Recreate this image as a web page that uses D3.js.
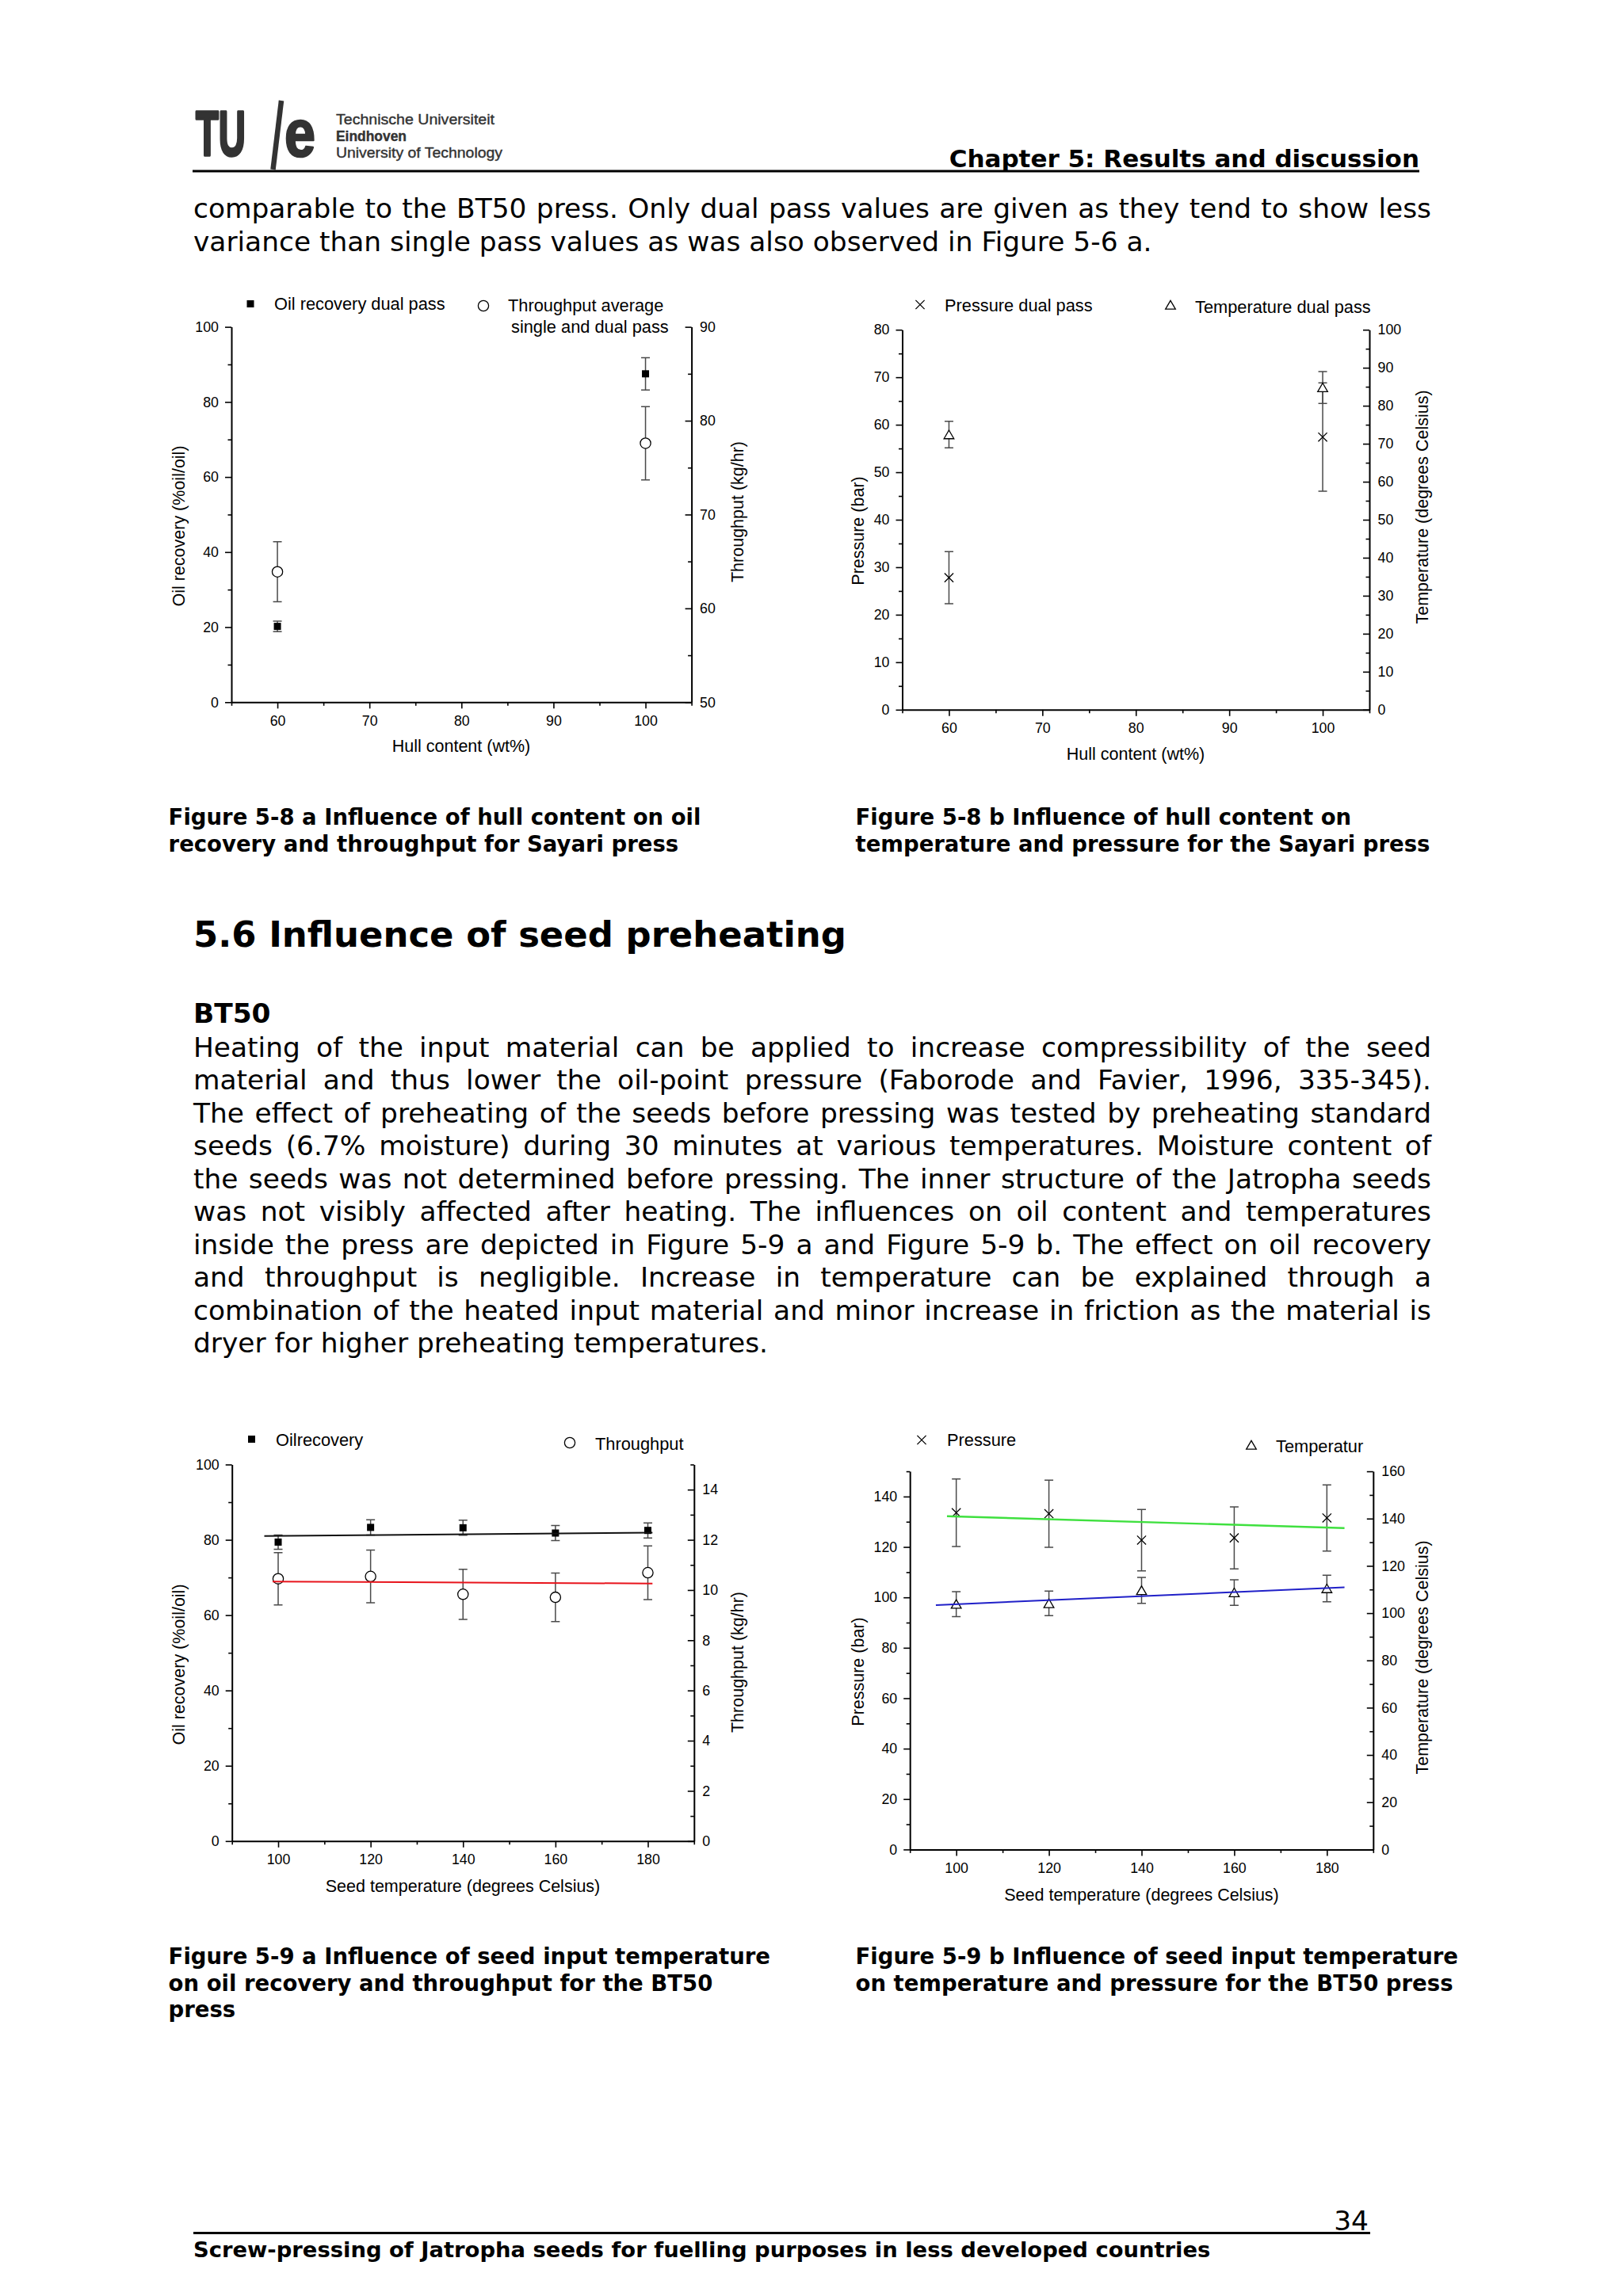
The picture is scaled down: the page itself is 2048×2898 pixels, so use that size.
<!DOCTYPE html>
<html>
<head>
<meta charset="utf-8">
<script src="https://cdn.jsdelivr.net/npm/d3@7"></script>
<style>
  html, body { margin: 0; padding: 0; background: #fff; }
  svg { display: block; }
</style>
</head>
<body>
<svg id="page" width="2048" height="2898"></svg>
<script>
// ---- Figure 5-8 a/b : hull content (Sayari press)
const hullContent = [60, 100];
const hullTicks = [60, 70, 80, 90, 100];
const hullMinor = [55, 65, 75, 85, 95, 105];

const oilRecoveryDual = [20.2, 87.5];
const oilRecoveryDualErr = [1.4, 4.3];
const throughputAvg = [63.9, 77.6];
const throughputAvgErr = [3.2, 3.9];

const pressureDual = [27.8, 57.4];
const pressureDualErr = [5.5, 11.4];
const tempDual = [72.4, 84.8];
const tempDualErr = [3.5, 4.2];

// ---- Figure 5-9 a/b : seed temperature (BT50 press)
const seedTemp = [100, 120, 140, 160, 180];
const seedTicks = [100, 120, 140, 160, 180];
const seedMinor = [90, 110, 130, 150, 170, 190];

const oilRecovery = [79.4, 83.3, 83.2, 81.8, 82.5];
const oilRecoveryErr = [1.9, 2.0, 2.0, 2.0, 2.0];
const throughput = [10.45, 10.54, 9.83, 9.71, 10.69];
const throughputErr = [1.04, 1.05, 1.0, 0.97, 1.07];

const pressure = [133.6, 133.2, 122.7, 123.6, 131.5];
const pressureErr = [13.4, 13.3, 12.2, 12.3, 13.1];
const temperature = [103.8, 104.1, 109.6, 108.7, 110.4];
const temperatureErr = [5.25, 5.2, 5.5, 5.4, 5.6];

// fitted lines, end points as drawn
const oilFitX = [97, 181], oilFitY = [81.0, 81.9];
const thrFitX = [98.8, 181], thrFitY = [10.34, 10.26];
const presFitX = [98, 183.8], presFitY = [132.2, 127.5];
const tempFitX = [95.6, 183.8], tempFitY = [103.4, 110.9];

// y tick values
const oilTicks = [0, 20, 40, 60, 80, 100];
const oilMinor = [10, 30, 50, 70, 90];
const thrHullTicks = [50, 60, 70, 80, 90];
const thrHullMinor = [55, 65, 75, 85];
const presHullTicks = [0, 10, 20, 30, 40, 50, 60, 70, 80];
const presHullMinor = [5, 15, 25, 35, 45, 55, 65, 75];
const tempHullTicks = [0, 10, 20, 30, 40, 50, 60, 70, 80, 90, 100];
const tempHullMinor = [5, 15, 25, 35, 45, 55, 65, 75, 85, 95];
const thrTicks = [0, 2, 4, 6, 8, 10, 12, 14];
const thrMinor = [1, 3, 5, 7, 9, 11, 13, 15];
const presTicks = [0, 20, 40, 60, 80, 100, 120, 140];
const presMinor = [10, 30, 50, 70, 90, 110, 130, 150];
const tempTicks = [0, 20, 40, 60, 80, 100, 120, 140, 160];
const tempMinor = [10, 30, 50, 70, 90, 110, 130, 150];

// ---- page text
const introLines = [
  "comparable to the BT50 press. Only dual pass values are given as they tend to show less",
  "variance than single pass values as was also observed in Figure 5-6 a."
];
const bodyLines = [
  "Heating of the input material can be applied to increase compressibility of the seed",
  "material and thus lower the oil-point pressure (Faborode and Favier, 1996, 335-345).",
  "The effect of preheating of the seeds before pressing was tested by preheating standard",
  "seeds (6.7% moisture) during 30 minutes at various temperatures. Moisture content of",
  "the seeds was not determined before pressing. The inner structure of the Jatropha seeds",
  "was not visibly affected after heating. The influences on oil content and temperatures",
  "inside the press are depicted in Figure 5-9 a and Figure 5-9 b. The effect on oil recovery",
  "and throughput is negligible. Increase in temperature can be explained through a",
  "combination of the heated input material and minor increase in friction as the material is",
  "dryer for higher preheating temperatures."
];
const cap58a = ["Figure 5-8 a Influence of hull content on oil", "recovery and throughput for Sayari press"];
const cap58b = ["Figure 5-8 b Influence of hull content on", "temperature and pressure for the Sayari press"];
const cap59a = ["Figure 5-9 a Influence of seed input temperature", "on oil recovery and throughput for the BT50", "press"];
const cap59b = ["Figure 5-9 b Influence of seed input temperature", "on temperature and pressure for the BT50 press"];

const CHART_FONT = "'Liberation Sans', Arial, sans-serif";
const PAGE_FONT = "'DejaVu Sans', Verdana, sans-serif";

const svg = d3.select("#page");
svg.append("rect").attr("width", 2048).attr("height", 2898).attr("fill", "#fff");

// ---------- page text helpers
function txt(x, y, s, size, opts = {}) {
  const t = svg.append("text")
    .attr("x", x).attr("y", y)
    .style("font-family", opts.font || PAGE_FONT)
    .style("font-size", size + "px")
    .style("font-weight", opts.bold ? "bold" : "normal")
    .attr("fill", opts.fill || "#000")
    .attr("text-anchor", opts.anchor || "start")
    .text(s);
  if (opts.len) t.attr("textLength", opts.len).attr("lengthAdjust", "spacingAndGlyphs");
  if (opts.stroke) t.attr("stroke", opts.fill || "#000").attr("stroke-width", opts.stroke).attr("stroke-linejoin", "round");
  return t;
}
function justify(t, width) {
  const s = t.text();
  const n = (s.match(/ /g) || []).length;
  const w = t.node().getComputedTextLength();
  if (n) t.style("word-spacing", ((width - w) / n) + "px");
}

// header: TU/e logo
const LOGO_FONT = "'Liberation Sans', Arial, sans-serif";
txt(247, 196, "TU", 80, { bold: true, font: LOGO_FONT, fill: "#333", len: 63, stroke: 3.5 });
svg.append("line").attr("x1", 355).attr("y1", 127).attr("x2", 344.5).attr("y2", 214)
  .attr("stroke", "#333").attr("stroke-width", 6.5);
txt(359, 196.5, "e", 84, { bold: true, font: LOGO_FONT, fill: "#333", len: 39, stroke: 2.5 });
txt(424, 156.5, "Technische Universiteit", 18.5, { font: LOGO_FONT, fill: "#333", len: 200, stroke: 0.4 });
txt(424, 178, "Eindhoven", 18.5, { bold: true, font: LOGO_FONT, fill: "#333", len: 89, stroke: 0.4 });
txt(424, 199, "University of Technology", 18.5, { font: LOGO_FONT, fill: "#333", len: 210, stroke: 0.4 });
txt(1791, 211, "Chapter 5: Results and discussion", 31, { bold: true, anchor: "end" });
svg.append("line").attr("x1", 243).attr("x2", 1791).attr("y1", 216).attr("y2", 216)
  .attr("stroke", "#000").attr("stroke-width", 3);

// intro paragraph
justify(txt(244, 275, introLines[0], 34.4), 1562);
txt(244, 316.5, introLines[1], 34.4);

// captions 5-8
cap58a.forEach((s, i) => txt(212.6, 1041 + i * 34, s, 27.5, { bold: true }));
cap58b.forEach((s, i) => txt(1079.5, 1041 + i * 34, s, 27.5, { bold: true }));

// section
txt(244, 1195, "5.6 Influence of seed preheating", 44.9, { bold: true });
txt(244, 1291, "BT50", 34.4, { bold: true });
bodyLines.forEach((s, i) => {
  const t = txt(244, 1333.5 + i * 41.5, s, 34.4);
  if (i < bodyLines.length - 1) justify(t, 1562);
});

// captions 5-9
cap59a.forEach((s, i) => txt(212.6, 2479 + i * 33.5, s, 27.5, { bold: true }));
cap59b.forEach((s, i) => txt(1079.5, 2479 + i * 33.5, s, 27.5, { bold: true }));

// footer
txt(1727, 2815, "34", 34.4, { anchor: "end" });
svg.append("line").attr("x1", 244).attr("x2", 1729).attr("y1", 2818.5).attr("y2", 2818.5)
  .attr("stroke", "#000").attr("stroke-width", 3);
txt(244, 2849, "Screw-pressing of Jatropha seeds for fuelling purposes in less developed countries", 27.4, { bold: true });

// ---------- chart helpers
function styleAxis(sel, keepDomain) {
  sel.attr("font-family", null).attr("font-size", null);
  sel.select(".domain").attr("stroke", "#000").attr("stroke-width", 2)
    .style("display", keepDomain ? null : "none");
  sel.selectAll(".tick line").attr("stroke", "#000").attr("stroke-width", 1.6);
  sel.selectAll(".tick text").attr("fill", "#000")
    .style("font-family", CHART_FONT).style("font-size", "17.8px");
}

function marker(g, type, cx, cy) {
  if (type === "square") {
    g.append("rect").attr("x", cx - 4.5).attr("y", cy - 4.5).attr("width", 9).attr("height", 9).attr("fill", "#000");
  } else if (type === "circle") {
    g.append("circle").attr("cx", cx).attr("cy", cy).attr("r", 6.6)
      .attr("fill", "#fff").attr("stroke", "#000").attr("stroke-width", 1.3);
  } else if (type === "triangle") {
    g.append("path").attr("d", `M${cx},${cy - 5.6}L${cx + 6.3},${cy + 5.2}L${cx - 6.3},${cy + 5.2}Z`)
      .attr("fill", "#fff").attr("stroke", "#000").attr("stroke-width", 1.3);
  } else if (type === "cross") {
    g.append("path").attr("d", `M${cx - 5.6},${cy - 5.6}L${cx + 5.6},${cy + 5.6}M${cx + 5.6},${cy - 5.6}L${cx - 5.6},${cy + 5.6}`)
      .attr("stroke", "#000").attr("stroke-width", 1.3).attr("fill", "none");
  }
}

function chartText(g, x, y, s, size, rot) {
  const t = g.append("text").attr("fill", "#000")
    .style("font-family", CHART_FONT).style("font-size", size + "px").text(s);
  if (rot) {
    t.attr("transform", `translate(${x},${y}) rotate(-90)`).attr("text-anchor", "middle").attr("dy", "0.35em");
  } else {
    t.attr("x", x).attr("y", y);
  }
  return t;
}

function drawChart(o) {
  const g = svg.append("g");
  const x = d3.scaleLinear().domain(o.xDomain).range([o.left, o.right]);
  const yL = d3.scaleLinear().domain(o.yLDomain).range([o.bottom, o.top]);
  const yR = d3.scaleLinear().domain(o.yRDomain).range([o.bottom, o.top]);

  // axes: minor first, then major with labels
  g.append("g").attr("transform", `translate(0,${o.bottom})`)
    .call(d3.axisBottom(x).tickValues(o.xMinor).tickSize(4.5).tickFormat(""))
    .call(s => styleAxis(s, false));
  g.append("g").attr("transform", `translate(0,${o.bottom})`)
    .call(d3.axisBottom(x).tickValues(o.xTicks).tickSize(8).tickSizeOuter(0).tickPadding(9).tickFormat(d3.format("d")))
    .call(s => styleAxis(s, true));
  g.append("g").attr("transform", `translate(${o.left},0)`)
    .call(d3.axisLeft(yL).tickValues(o.yLMinor).tickSize(4.5).tickFormat(""))
    .call(s => styleAxis(s, false));
  g.append("g").attr("transform", `translate(${o.left},0)`)
    .call(d3.axisLeft(yL).tickValues(o.yLTicks).tickSize(8).tickSizeOuter(0).tickPadding(8).tickFormat(d3.format("d")))
    .call(s => styleAxis(s, true));
  g.append("g").attr("transform", `translate(${o.right},0)`)
    .call(d3.axisRight(yR).tickValues(o.yRMinor).tickSize(-4.5).tickFormat(""))
    .call(s => styleAxis(s, false));
  g.append("g").attr("transform", `translate(${o.right},0)`)
    .call(d3.axisRight(yR).tickValues(o.yRTicks).tickSize(-8).tickSizeOuter(0).tickPadding(10.5).tickFormat(d3.format("d")))
    .call(s => styleAxis(s, true));

  // error bars
  o.series.forEach(sr => {
    const y = sr.axis === "R" ? yR : yL;
    sr.x.forEach((xv, i) => {
      const cx = x(xv), y0 = y(sr.y[i] - sr.err[i]), y1 = y(sr.y[i] + sr.err[i]);
      g.append("path")
        .attr("d", `M${cx},${y0}V${y1}M${cx - 5.5},${y0}H${cx + 5.5}M${cx - 5.5},${y1}H${cx + 5.5}`)
        .attr("stroke", "#4a4a4a").attr("stroke-width", 1.5).attr("fill", "none");
    });
  });
  // markers
  o.series.forEach(sr => {
    const y = sr.axis === "R" ? yR : yL;
    sr.x.forEach((xv, i) => marker(g, sr.marker, x(xv), y(sr.y[i])));
  });
  // linear fits
  (o.fits || []).forEach(f => {
    const y = f.axis === "R" ? yR : yL;
    const line = d3.line().x(d => x(d[0])).y(d => y(d[1]));
    g.append("path").datum(d3.zip(f.x, f.y)).attr("d", line)
      .attr("stroke", f.color).attr("stroke-width", f.width || 2).attr("fill", "none");
  });

  // legend
  o.legend.forEach(l => {
    marker(g, l.marker, l.mx, l.my);
    l.lines.forEach(t => chartText(g, t[1], t[2], t[0], 21.8));
  });

  // axis titles
  chartText(g, o.xTitle[1], o.xTitle[2], o.xTitle[0], 21.5).attr("text-anchor", "middle");
  chartText(g, o.yLTitle[1], o.yLTitle[2], o.yLTitle[0], 21.5, true);
  chartText(g, o.yRTitle[1], o.yRTitle[2], o.yRTitle[0], 21.5, true);
}

// Figure 5-8 a
drawChart({
  left: 292, right: 872.6, top: 412.6, bottom: 886.3,
  xDomain: [55, 105], xTicks: hullTicks, xMinor: hullMinor,
  yLDomain: [0, 100], yLTicks: oilTicks, yLMinor: oilMinor,
  yRDomain: [50, 90], yRTicks: thrHullTicks, yRMinor: thrHullMinor,
  series: [
    { x: hullContent, y: oilRecoveryDual, err: oilRecoveryDualErr, axis: "L", marker: "square" },
    { x: hullContent, y: throughputAvg, err: throughputAvgErr, axis: "R", marker: "circle" }
  ],
  legend: [
    { marker: "square", mx: 316, my: 383.5, lines: [["Oil recovery dual pass", 346, 391]] },
    { marker: "circle", mx: 610, my: 386, lines: [["Throughput average", 641, 393], ["single and dual pass", 645, 419.5]] }
  ],
  xTitle: ["Hull content (wt%)", 582, 949],
  yLTitle: ["Oil recovery (%oil/oil)", 225, 664],
  yRTitle: ["Throughput (kg/hr)", 930, 646]
});

// Figure 5-8 b
drawChart({
  left: 1138.5, right: 1728, top: 416.2, bottom: 895.8,
  xDomain: [55, 105], xTicks: hullTicks, xMinor: hullMinor,
  yLDomain: [0, 80], yLTicks: presHullTicks, yLMinor: presHullMinor,
  yRDomain: [0, 100], yRTicks: tempHullTicks, yRMinor: tempHullMinor,
  series: [
    { x: hullContent, y: pressureDual, err: pressureDualErr, axis: "L", marker: "cross" },
    { x: hullContent, y: tempDual, err: tempDualErr, axis: "R", marker: "triangle" }
  ],
  legend: [
    { marker: "cross", mx: 1161, my: 384.5, lines: [["Pressure dual pass", 1192, 392.5]] },
    { marker: "triangle", mx: 1477, my: 385, lines: [["Temperature dual pass", 1508, 394.5]] }
  ],
  xTitle: ["Hull content (wt%)", 1433, 959],
  yLTitle: ["Pressure (bar)", 1082, 670],
  yRTitle: ["Temperature (degrees Celsius)", 1794, 640]
});

// Figure 5-9 a
drawChart({
  left: 292.7, right: 875.8, top: 1848.5, bottom: 2323.8,
  xDomain: [90, 190], xTicks: seedTicks, xMinor: seedMinor,
  yLDomain: [0, 100], yLTicks: oilTicks, yLMinor: oilMinor,
  yRDomain: [0, 15], yRTicks: thrTicks, yRMinor: thrMinor,
  series: [
    { x: seedTemp, y: oilRecovery, err: oilRecoveryErr, axis: "L", marker: "square" },
    { x: seedTemp, y: throughput, err: throughputErr, axis: "R", marker: "circle" }
  ],
  fits: [
    { x: oilFitX, y: oilFitY, axis: "L", color: "#111" },
    { x: thrFitX, y: thrFitY, axis: "R", color: "#e8141c" }
  ],
  legend: [
    { marker: "square", mx: 317.5, my: 1816.5, lines: [["Oilrecovery", 348, 1825]] },
    { marker: "circle", mx: 719, my: 1821, lines: [["Throughput", 751, 1829.5]] }
  ],
  xTitle: ["Seed temperature (degrees Celsius)", 584, 2388],
  yLTitle: ["Oil recovery (%oil/oil)", 225, 2101],
  yRTitle: ["Throughput (kg/hr)", 930, 2098]
});

// Figure 5-9 b
drawChart({
  left: 1148.2, right: 1732.8, top: 1857.1, bottom: 2334.4,
  xDomain: [90, 190], xTicks: seedTicks, xMinor: seedMinor,
  yLDomain: [0, 150], yLTicks: presTicks, yLMinor: presMinor,
  yRDomain: [0, 160], yRTicks: tempTicks, yRMinor: tempMinor,
  series: [
    { x: seedTemp, y: pressure, err: pressureErr, axis: "L", marker: "cross" },
    { x: seedTemp, y: temperature, err: temperatureErr, axis: "R", marker: "triangle" }
  ],
  fits: [
    { x: presFitX, y: presFitY, axis: "L", color: "#3fe03f", width: 2.4 },
    { x: tempFitX, y: tempFitY, axis: "R", color: "#2020c8" }
  ],
  legend: [
    { marker: "cross", mx: 1163, my: 1817.5, lines: [["Pressure", 1195, 1824.5]] },
    { marker: "triangle", mx: 1579, my: 1824, lines: [["Temperatur", 1610, 1832.5]] }
  ],
  xTitle: ["Seed temperature (degrees Celsius)", 1440.5, 2398.5],
  yLTitle: ["Pressure (bar)", 1082, 2110],
  yRTitle: ["Temperature (degrees Celsius)", 1794, 2092]
});
</script>
</body>
</html>
